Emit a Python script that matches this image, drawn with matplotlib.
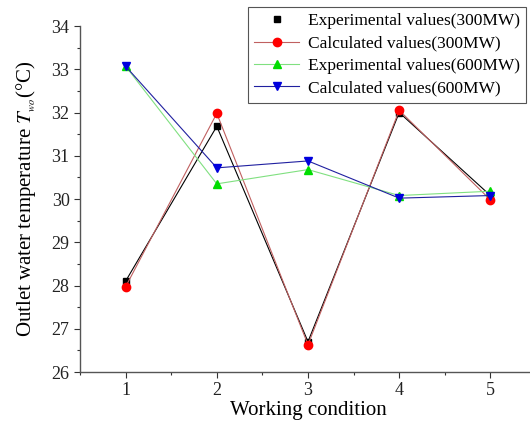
import matplotlib
matplotlib.use("Agg")
import matplotlib.pyplot as plt
from matplotlib.ticker import MultipleLocator
from matplotlib.lines import Line2D

plt.rcParams['font.family'] = ['Liberation Serif', 'DejaVu Serif']
plt.rcParams['mathtext.fontset'] = 'stix'

conditions = [1, 2, 3, 4, 5]
exp_300 = [28.10, 31.68, 26.70, 32.00, 30.08]
calc_300 = [27.97, 31.98, 26.63, 32.05, 29.98]
exp_600 = [33.07, 30.35, 30.68, 30.08, 30.18]
calc_600 = [33.07, 30.72, 30.88, 30.02, 30.08]

labels = ["Experimental values(300MW)", "Calculated values(300MW)",
          "Experimental values(600MW)", "Calculated values(600MW)"]

fig = plt.figure(figsize=(5.30, 4.23), dpi=100)
ax = fig.add_axes([80/530, 51/423, 456/530, (372-26)/423])

l1, = ax.plot(conditions, exp_300, color='black', lw=0.8, marker='s', ms=5, label=labels[0])
l2, = ax.plot(conditions, calc_300, color='#c06060', lw=0.8, marker='o', ms=6,
              mfc='red', mec='red', label=labels[1])
l3, = ax.plot(conditions, exp_600, color='#80e080', lw=0.8, marker='^', ms=6,
              mfc='#00dd00', mec='#00dd00', label=labels[2])
l4, = ax.plot(conditions, calc_600, color='#2020a0', lw=0.8, marker='v', ms=6,
              mfc='#0000dd', mec='#0000dd', label=labels[3])

ax.set_xlim(0.5, 5.5)
ax.set_ylim(26, 34)
ax.xaxis.set_major_locator(MultipleLocator(1))
ax.xaxis.set_minor_locator(MultipleLocator(0.5))
ax.yaxis.set_major_locator(MultipleLocator(1))
ax.yaxis.set_minor_locator(MultipleLocator(0.5))
ax.tick_params(which='major', direction='out', length=4, width=0.8, labelsize=13, colors='#333333')
ax.tick_params(which='minor', direction='out', length=2.5, width=0.8, colors='#333333')
ax.tick_params(axis='both', labelcolor='#222222')

for s in ['top', 'right']:
    ax.spines[s].set_visible(False)
for s in ['left', 'bottom']:
    ax.spines[s].set_color('#555555')
    ax.spines[s].set_linewidth(1.0)

ax.set_xlabel('Working condition', fontsize=15, labelpad=1)
ax.set_ylabel(r'Outlet water temperature $\mathit{T}_{_{wo}}$(°C)', fontsize=15, labelpad=10)

h1 = Line2D([], [], ls='none', marker='s', ms=5, color='black')
leg = fig.legend([h1, l2, l3, l4], labels, loc='upper left',
                 bbox_to_anchor=(248/530, 1 - 7/423), fontsize=12.5,
                 frameon=True, fancybox=False, edgecolor='#555555', framealpha=1,
                 handlelength=2.6, handletextpad=0.5, borderpad=0.35, labelspacing=0.36,
                 borderaxespad=0)
leg.get_frame().set_linewidth(0.8)

fig.savefig('out.png', dpi=100)
